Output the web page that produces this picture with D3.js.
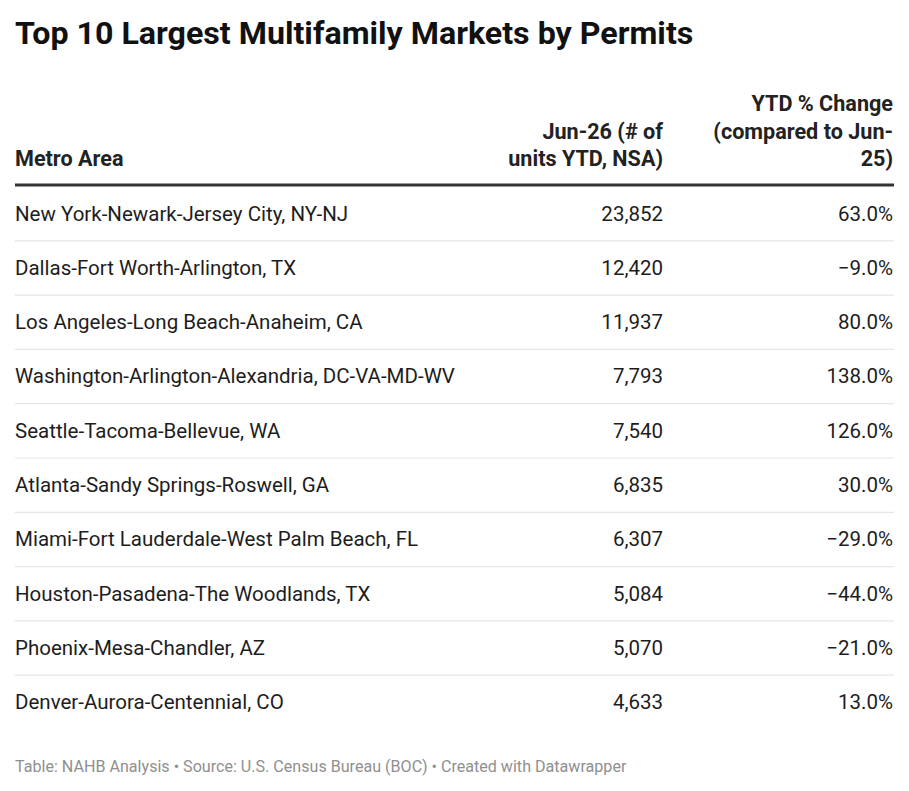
<!DOCTYPE html>
<html><head><meta charset="utf-8">
<script src="https://cdn.jsdelivr.net/npm/d3@7"></script>
<style>
html,body{margin:0;padding:0;background:#fff;}
svg{display:block;font-family:Roboto,"Noto Sans",sans-serif;}
</style></head>
<body>
<svg id="chart" width="909" height="791"></svg>
<script>
const title = "Top 10 Largest Multifamily Markets by Permits";
const headers = [["Metro Area"], ["Jun-26 (# of", "units YTD, NSA)"], ["YTD % Change", "(compared to Jun-", "25)"]];
const metros = [
  "New York-Newark-Jersey City, NY-NJ",
  "Dallas-Fort Worth-Arlington, TX",
  "Los Angeles-Long Beach-Anaheim, CA",
  "Washington-Arlington-Alexandria, DC-VA-MD-WV",
  "Seattle-Tacoma-Bellevue, WA",
  "Atlanta-Sandy Springs-Roswell, GA",
  "Miami-Fort Lauderdale-West Palm Beach, FL",
  "Houston-Pasadena-The Woodlands, TX",
  "Phoenix-Mesa-Chandler, AZ",
  "Denver-Aurora-Centennial, CO"
];
const units = [23852, 12420, 11937, 7793, 7540, 6835, 6307, 5084, 5070, 4633];
const ytdChange = [63.0, -9.0, 80.0, 138.0, 126.0, 30.0, -29.0, -44.0, -21.0, 13.0];
const footer = "Table: NAHB Analysis • Source: U.S. Census Bureau (BOC) • Created with Datawrapper";

const svg = d3.select("#chart");
const left = 15, right = 894;
const colRight = [null, 663, 893];

svg.append("text").attr("x", left).attr("y", 44)
  .attr("font-size", 32.2).attr("font-weight", 700).attr("fill", "#111")
  .text(title);

// header
const lineH = 27.5;
headers.forEach((lines, i) => {
  const n = lines.length;
  lines.forEach((l, j) => {
    svg.append("text")
      .attr("x", i === 0 ? left : colRight[i])
      .attr("y", 166 - (n - 1 - j) * lineH)
      .attr("text-anchor", i === 0 ? "start" : "end")
      .attr("font-size", 21.6).attr("font-weight", 700).attr("fill", "#222")
      .text(l);
  });
});

svg.append("line").attr("x1", left).attr("x2", right).attr("y1", 185).attr("y2", 185)
  .attr("stroke", "#333").attr("stroke-width", 3);

const y = d3.scaleBand().domain(metros).range([186.5, 729.5]);
const fmtInt = d3.format(",");
const fmtPct = d3.format(".1f");

const rows = svg.append("g").selectAll("g").data(metros).join("g")
  .attr("transform", d => `translate(0,${y(d)})`);

rows.filter((d, i) => i < metros.length - 1).append("line")
  .attr("x1", left).attr("x2", right)
  .attr("y1", y.bandwidth()).attr("y2", y.bandwidth())
  .attr("stroke", "#e6e6e6").attr("stroke-width", 1.2);

rows.append("text").attr("x", left).attr("y", 34)
  .attr("font-size", 20.5).attr("fill", "#1d1d1d").text(d => d);
rows.append("text").attr("x", colRight[1]).attr("y", 34).attr("text-anchor", "end")
  .attr("font-size", 20.5).attr("fill", "#1d1d1d").text((d, i) => fmtInt(units[i]));
rows.append("text").attr("x", colRight[2]).attr("y", 34).attr("text-anchor", "end")
  .attr("font-size", 20.5).attr("fill", "#1d1d1d").text((d, i) => fmtPct(ytdChange[i]) + "%");

svg.append("text").attr("x", left).attr("y", 772)
  .attr("font-size", 16.1).attr("fill", "#8f8f8f").text(footer);
</script>
</body></html>
